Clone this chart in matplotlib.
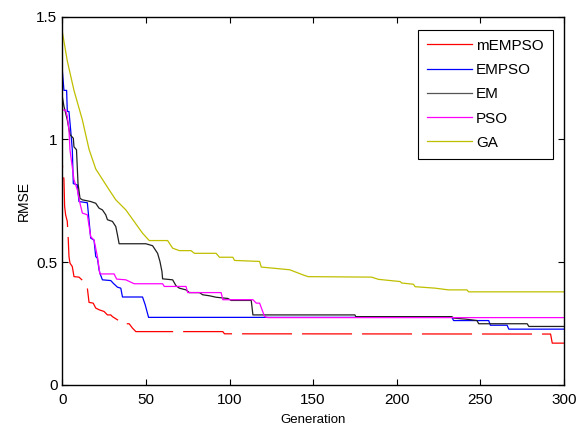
import matplotlib.pyplot as plt

plt.rcParams['font.family'] = ['Liberation Sans', 'DejaVu Sans']

# Breakpoints (generation, RMSE)
mempso_gen = [0, 0, 1, 1.4, 2, 3, 3.6, 4, 4.6, 6, 7, 10, 13, 15, 16, 18.5, 20, 22, 25, 27, 29, 30,
              33, 36, 40, 42, 44, 96, 97, 292, 293, 300]
mempso_val = [1.09, 0.9, 0.836, 0.727, 0.693, 0.666, 0.59, 0.523, 0.496, 0.482, 0.441, 0.439, 0.42,
              0.394, 0.336, 0.333, 0.313, 0.306, 0.299, 0.285, 0.285, 0.278, 0.265, 0.249, 0.249,
              0.231, 0.217, 0.217, 0.208, 0.207, 0.17, 0.17]

empso_gen = [0, 1, 2.6, 3, 4, 5, 6, 6.6, 9, 10, 15, 17, 19, 20, 21, 22, 22.5, 24, 29, 30.5, 33, 35,
             36, 48, 49.6, 51.6, 233, 234, 255, 256, 266, 267, 300]
empso_val = [1.284, 1.2, 1.2, 1.114, 1.114, 1.04, 0.958, 0.82, 0.815, 0.747, 0.742, 0.598, 0.59,
             0.523, 0.516, 0.469, 0.455, 0.428, 0.425, 0.414, 0.398, 0.394, 0.358, 0.358, 0.326,
             0.275, 0.275, 0.262, 0.262, 0.243, 0.243, 0.227, 0.227]

em_gen = [0, 1, 3, 4.6, 6.6, 7, 8.5, 9.4, 10.6, 12, 17, 20, 22, 24, 26, 27, 30, 32, 33, 34, 50, 54,
          57, 58.4, 59.6, 60, 66, 68, 70, 74, 76, 82, 84, 88, 92, 99, 101, 113, 114, 175, 175.5,
          233, 234, 241, 248, 249, 278, 279, 300]
em_val = [1.175, 1.135, 1.08, 1.02, 1.005, 0.97, 0.958, 0.822, 0.76, 0.754, 0.747, 0.74, 0.72,
          0.713, 0.693, 0.673, 0.666, 0.645, 0.611, 0.575, 0.575, 0.567, 0.536, 0.503, 0.462,
          0.432, 0.428, 0.404, 0.394, 0.387, 0.376, 0.376, 0.367, 0.363, 0.357, 0.352, 0.344,
          0.344, 0.285, 0.285, 0.278, 0.278, 0.272, 0.268, 0.262, 0.249, 0.249, 0.238, 0.238]

pso_gen = [0, 2, 3, 4, 4.6, 5.4, 7, 9, 10.6, 12, 15, 17, 19, 21, 22, 22.5, 31, 32.5, 38, 43, 60, 61,
           74, 75, 95, 96, 114, 116, 118, 121, 123, 300]
pso_val = [1.12, 1.12, 1.094, 1.04, 0.958, 0.917, 0.836, 0.795, 0.74, 0.70, 0.693, 0.604, 0.59,
           0.523, 0.476, 0.452, 0.452, 0.431, 0.428, 0.412, 0.412, 0.401, 0.401, 0.376, 0.376,
           0.347, 0.347, 0.333, 0.333, 0.278, 0.274, 0.274]

ga_gen = [0, 3, 7, 12, 16, 20, 28, 32, 38, 48, 52, 63, 66, 70, 77, 79, 92, 94, 102, 103, 118, 119,
          136, 144, 147, 185, 189, 202, 203, 210, 211, 223, 231, 242, 243, 300]
ga_val = [1.44, 1.32, 1.20, 1.08, 0.96, 0.88, 0.795, 0.754, 0.713, 0.618, 0.588, 0.588, 0.557,
          0.547, 0.547, 0.536, 0.536, 0.52, 0.52, 0.507, 0.503, 0.48, 0.469, 0.448, 0.441, 0.439,
          0.43, 0.421, 0.415, 0.41, 0.40, 0.394, 0.387, 0.387, 0.379, 0.379]

fig = plt.figure(figsize=(5.82, 4.30), dpi=100)
ax = fig.add_axes([0.107, 0.105, 0.862, 0.856])

ax.plot(mempso_gen, mempso_val, color='#ff0000', lw=0.9, dashes=(40, 8), label='mEMPSO')
ax.plot(empso_gen, empso_val, color='#0000ff', lw=0.9, label='EMPSO')
ax.plot(em_gen, em_val, color='#202020', lw=0.9, label='EM')
ax.plot(pso_gen, pso_val, color='#ff00ff', lw=0.9, label='PSO')
ax.plot(ga_gen, ga_val, color='#bfbf00', lw=0.9, label='GA')

ax.set_xlim(0, 300)
ax.set_ylim(0, 1.5)
ax.set_xticks([0, 50, 100, 150, 200, 250, 300])
ax.set_yticks([0, 0.5, 1, 1.5])
ax.set_yticklabels(['0', '0.5', '1', '1.5'])
ax.tick_params(direction='in', top=True, right=True, labelsize=11, length=4, width=0.8)
ax.tick_params(axis='x', pad=6)
for s in ax.spines.values():
    s.set_linewidth(1.0)

ax.set_xlabel('Generation', fontsize=9.5, labelpad=5)
ax.set_ylabel('RMSE', fontsize=10, labelpad=4)

leg = ax.legend(loc='upper right', bbox_to_anchor=(0.978, 0.965), borderaxespad=0, fontsize=11,
                fancybox=False, edgecolor='black', framealpha=1, handlelength=2.9,
                handletextpad=0.3, labelspacing=0.67, borderpad=0.6)
leg.get_frame().set_linewidth(0.8)
# legend shows EM in gray and mEMPSO solid
leg.get_lines()[0].set_linestyle('-')
leg.get_lines()[2].set_color('#555555')

plt.savefig('out.png', dpi=100)
